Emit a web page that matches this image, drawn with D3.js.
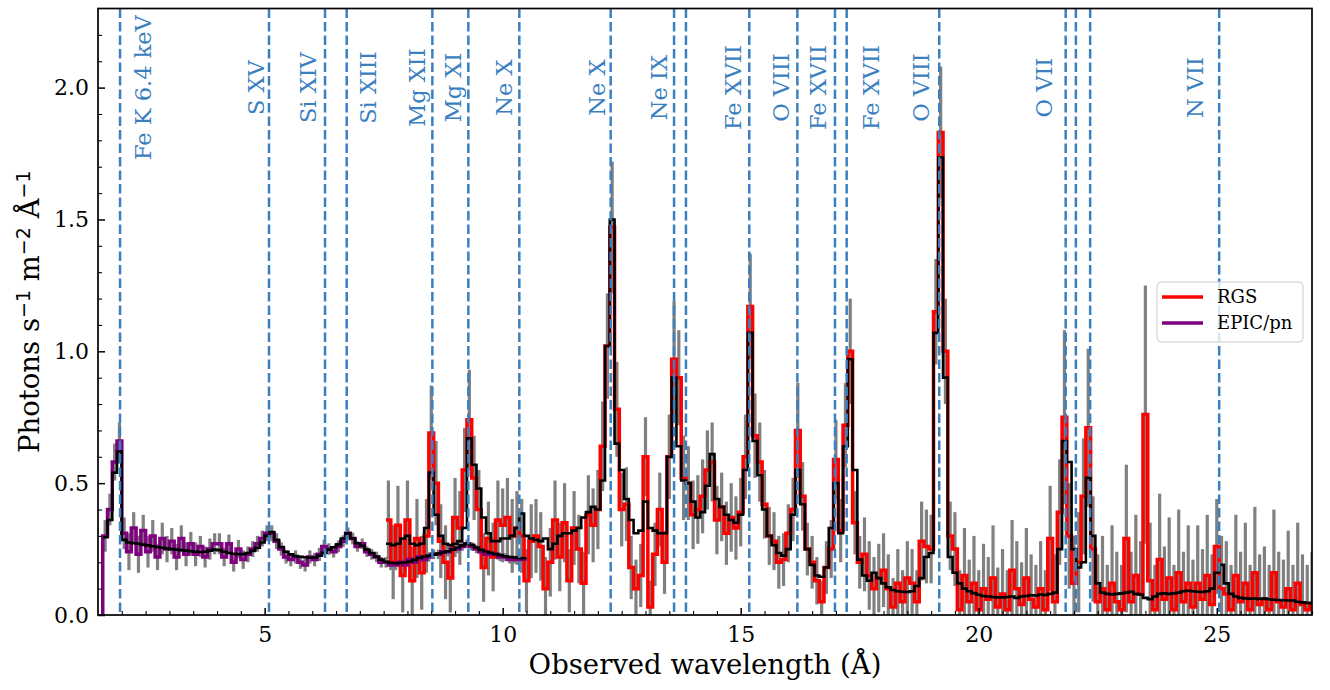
<!DOCTYPE html>
<html>
<head>
<meta charset="utf-8">
<script src="https://cdn.jsdelivr.net/npm/d3@7"></script>
<style>
  body { margin: 0; background: #fff; }
  svg { display: block; font-family: "DejaVu Serif", serif; }
</style>
</head>
<body>
<svg></svg>
<script>
// EPIC/pn spectrum, 0.1 A bins starting at 1.6 A
const epicStart = 1.6
const epicBin = 0.1
const epicFlux = [
  0.30, 0.40, 0.58, 0.66, 0.31, 0.24, 0.33, 0.23, 0.32, 0.24,
  0.30, 0.22, 0.29, 0.25, 0.28, 0.22, 0.29, 0.23, 0.27, 0.23,
  0.26, 0.22, 0.25, 0.27, 0.27, 0.22, 0.27, 0.20, 0.25, 0.21,
  0.23, 0.25, 0.27, 0.29, 0.31, 0.31, 0.28, 0.25, 0.22, 0.21,
  0.22, 0.20, 0.19, 0.22, 0.21, 0.23, 0.26, 0.25, 0.24, 0.26,
  0.28, 0.31, 0.29, 0.26, 0.27, 0.24, 0.23, 0.22, 0.20, 0.20,
  0.19, 0.19, 0.20, 0.19, 0.21, 0.20, 0.22, 0.21, 0.22, 0.23,
  0.23, 0.24, 0.24, 0.25, 0.25, 0.26, 0.27, 0.26, 0.25, 0.24,
  0.23, 0.23, 0.23, 0.22, 0.22, 0.21, 0.21, 0.21, 0.21
]
const epicErr = [
  0.06, 0.06, 0.07, 0.07, 0.06, 0.07, 0.06, 0.07, 0.06, 0.06,
  0.06, 0.05, 0.06, 0.05, 0.05, 0.05, 0.05, 0.045, 0.045, 0.045,
  0.04, 0.04, 0.04, 0.04, 0.04, 0.035, 0.035, 0.035, 0.035, 0.035,
  0.03, 0.03, 0.03, 0.03, 0.03, 0.03, 0.03, 0.025, 0.025, 0.025,
  0.025, 0.025, 0.025, 0.025, 0.025, 0.025, 0.025, 0.022, 0.022, 0.022,
  0.022, 0.022, 0.022, 0.02, 0.02, 0.02, 0.02, 0.02, 0.02, 0.02,
  0.02, 0.02, 0.02, 0.02, 0.018, 0.018, 0.018, 0.018, 0.018, 0.018,
  0.018, 0.018, 0.018, 0.018, 0.016, 0.016, 0.016, 0.016, 0.016, 0.016,
  0.016, 0.016, 0.016, 0.016, 0.015, 0.015, 0.015, 0.015, 0.015
]
const epicModel = [
  0.295, 0.36, 0.54, 0.62, 0.285, 0.275, 0.272, 0.27, 0.267, 0.264,
  0.261, 0.258, 0.255, 0.252, 0.25, 0.248, 0.246, 0.244, 0.242, 0.24,
  0.239, 0.24, 0.244, 0.248, 0.246, 0.24, 0.235, 0.232, 0.231, 0.231,
  0.235, 0.243, 0.255, 0.275, 0.30, 0.315, 0.285, 0.258, 0.24, 0.23,
  0.224, 0.221, 0.219, 0.217, 0.218, 0.225, 0.236, 0.248, 0.257, 0.268,
  0.29, 0.31, 0.29, 0.272, 0.262, 0.248, 0.235, 0.222, 0.21, 0.202,
  0.198, 0.196, 0.197, 0.199, 0.203, 0.209, 0.216, 0.221, 0.225, 0.229,
  0.233, 0.237, 0.242, 0.248, 0.256, 0.264, 0.27, 0.266, 0.256, 0.247,
  0.241, 0.236, 0.231, 0.227, 0.223, 0.22, 0.218, 0.216, 0.215
]

// RGS spectrum, 0.1 A bins starting at 7.55 A
const rgsStart = 7.55
const rgsBin = 0.1
const rgsFlux = [
  0.36, 0.20, 0.34, 0.15, 0.36, 0.13, 0.29, 0.16, 0.30, 0.69,
  0.50, 0.28, 0.20, 0.14, 0.37, 0.33, 0.55, 0.74, 0.52, 0.40,
  0.18, 0.29, 0.22, 0.36, 0.34, 0.37, 0.30, 0.33, 0.30, 0.13,
  0.28, 0.30, 0.26, 0.10, 0.20, 0.36, 0.22, 0.35, 0.13, 0.33,
  0.25, 0.12, 0.38, 0.34, 0.40, 0.64, 1.02, 1.47, 0.78, 0.40,
  0.42, 0.18, 0.10, 0.15, 0.60, 0.03, 0.23, 0.40, 0.20, 0.60,
  0.97, 0.90, 0.52, 0.50, 0.38, 0.40, 0.45, 0.55, 0.58, 0.36,
  0.41, 0.31, 0.37, 0.33, 0.39, 0.60, 1.17, 0.68, 0.58, 0.42,
  0.30, 0.28, 0.20, 0.21, 0.31, 0.40, 0.70, 0.45, 0.25, 0.20,
  0.13, 0.05, 0.18, 0.25, 0.59, 0.32, 0.72, 1.00, 0.35, 0.20,
  0.23, 0.15, 0.10, 0.14, 0.17, 0.10, 0.03, 0.12, 0.05, 0.14,
  0.12, 0.05, 0.28, 0.26, 0.25, 1.15, 1.83, 1.00, 0.30, 0.25,
  0.02, 0.15, 0.05, 0.12, 0.02, 0.10, 0.06, 0.14, 0.03, 0.08,
  0.02, 0.17, 0.10, 0.04, 0.14, 0.06, 0.03, 0.10, 0.02, 0.29,
  0.05, 0.39, 0.75, 0.30, 0.12, 0.20, 0.45, 0.71, 0.25, 0.05,
  0.10, 0.02, 0.12, 0.05, 0.02, 0.29, 0.05, 0.15, 0.08, 0.76,
  0.13, 0.02, 0.21, 0.06, 0.14, 0.02, 0.16, 0.05, 0.12, 0.03,
  0.12, 0.06, 0.15, 0.04, 0.26, 0.10, 0.08, 0.02, 0.15, 0.05,
  0.12, 0.02, 0.16, 0.04, 0.06, 0.02, 0.16, 0.05, 0.03, 0.10,
  0.02, 0.12, 0.04, 0.02, 0.04
]
const rgsErr = [
  0.15, 0.14, 0.15, 0.14, 0.15, 0.13, 0.15, 0.14, 0.14, 0.18,
  0.16, 0.14, 0.14, 0.13, 0.15, 0.14, 0.16, 0.19, 0.16, 0.15,
  0.13, 0.14, 0.13, 0.15, 0.14, 0.15, 0.14, 0.14, 0.14, 0.12,
  0.14, 0.14, 0.13, 0.12, 0.13, 0.15, 0.13, 0.15, 0.12, 0.14,
  0.13, 0.12, 0.15, 0.14, 0.15, 0.17, 0.20, 0.25, 0.18, 0.14,
  0.14, 0.12, 0.11, 0.12, 0.15, 0.10, 0.12, 0.14, 0.12, 0.16,
  0.22, 0.18, 0.16, 0.14, 0.13, 0.13, 0.14, 0.15, 0.15, 0.13,
  0.13, 0.12, 0.13, 0.12, 0.13, 0.16, 0.20, 0.16, 0.15, 0.13,
  0.11, 0.11, 0.10, 0.10, 0.11, 0.12, 0.18, 0.13, 0.10, 0.10,
  0.09, 0.08, 0.10, 0.11, 0.15, 0.12, 0.16, 0.20, 0.12, 0.10,
  0.14, 0.13, 0.12, 0.13, 0.14, 0.13, 0.11, 0.13, 0.12, 0.14,
  0.13, 0.12, 0.15, 0.14, 0.13, 0.20, 0.25, 0.20, 0.13, 0.14,
  0.15, 0.18, 0.16, 0.18, 0.15, 0.17, 0.16, 0.20, 0.15, 0.17,
  0.15, 0.19, 0.18, 0.16, 0.19, 0.17, 0.16, 0.18, 0.15, 0.20,
  0.18, 0.20, 0.33, 0.20, 0.18, 0.19, 0.22, 0.30, 0.20, 0.18,
  0.20, 0.17, 0.22, 0.19, 0.17, 0.28, 0.19, 0.23, 0.20, 0.49,
  0.22, 0.17, 0.25, 0.20, 0.23, 0.17, 0.24, 0.19, 0.22, 0.18,
  0.22, 0.19, 0.23, 0.19, 0.18, 0.20, 0.20, 0.17, 0.23, 0.19,
  0.23, 0.17, 0.25, 0.19, 0.20, 0.17, 0.24, 0.19, 0.18, 0.22,
  0.17, 0.23, 0.19, 0.17, 0.20
]
const rgsModel = [
  0.27, 0.265, 0.27, 0.29, 0.30, 0.27, 0.265, 0.27, 0.33, 0.54,
  0.38, 0.30, 0.27, 0.265, 0.27, 0.28, 0.33, 0.67, 0.57, 0.48,
  0.37, 0.31, 0.28, 0.28, 0.29, 0.29, 0.30, 0.33, 0.385, 0.30,
  0.29, 0.285, 0.28, 0.29, 0.25, 0.27, 0.30, 0.31, 0.31, 0.32,
  0.33, 0.37, 0.39, 0.41, 0.40, 0.51, 1.02, 1.50, 0.65, 0.55,
  0.44, 0.36, 0.31, 0.32, 0.43, 0.33, 0.32, 0.31, 0.31, 0.60,
  0.90, 0.64, 0.51, 0.50, 0.43, 0.37, 0.39, 0.49, 0.61, 0.44,
  0.41, 0.38, 0.36, 0.35, 0.38, 0.55, 1.07, 0.66, 0.53, 0.40,
  0.30, 0.265, 0.235, 0.225, 0.25, 0.38, 0.55, 0.42, 0.25, 0.19,
  0.15, 0.145, 0.18, 0.33, 0.50, 0.31, 0.64, 0.97, 0.55, 0.21,
  0.15, 0.13, 0.16, 0.14, 0.12, 0.105, 0.095, 0.09, 0.088, 0.087,
  0.09, 0.11, 0.14, 0.22, 0.235, 1.07, 1.735, 0.90, 0.22, 0.16,
  0.12, 0.10, 0.09, 0.083, 0.077, 0.072, 0.07, 0.068, 0.067, 0.067,
  0.068, 0.07, 0.065, 0.07, 0.072, 0.075, 0.074, 0.078, 0.076, 0.08,
  0.085, 0.25, 0.66, 0.58, 0.25, 0.18, 0.20, 0.52, 0.30, 0.12,
  0.085, 0.08, 0.078, 0.08, 0.082, 0.085, 0.088, 0.08, 0.078, 0.065,
  0.06, 0.07, 0.08, 0.082, 0.08, 0.082, 0.085, 0.09, 0.092, 0.09,
  0.088, 0.087, 0.09, 0.10, 0.16, 0.19, 0.12, 0.08, 0.07, 0.065,
  0.063, 0.062, 0.062, 0.061, 0.062, 0.060, 0.058, 0.057, 0.056, 0.055,
  0.055, 0.050, 0.048, 0.046, 0.045
]

// identified lines (observed wavelength, A)
const lineWaves = [1.963, 5.092, 6.269, 6.724, 8.523, 9.279, 10.35, 12.269, 13.60, 13.85, 15.18, 16.19, 16.98, 17.226, 19.17, 21.826, 22.04, 22.34, 25.05]
const lineNames = ["Fe K 6.4 keV", "S XV", "Si XIV", "Si XIII", "Mg XII", "Mg XI", "Ne X", "Ne X", "Ne IX", "", "Fe XVII", "O VIII", "Fe XVII", "Fe XVII", "O VIII", "O VII", "", "", "N VII"]

const xTicks = [5, 10, 15, 20, 25]
const yTicks = [0, 0.5, 1.0, 1.5, 2.0]
const legendNames = ["RGS", "EPIC/pn"]

let width = 1330
let height = 690
let plotLeft = 98
let plotRight = 1312
let plotTop = 8.5
let plotBottom = 615

let lineColor = "#3a80c0"

let xScale
let yScale

let svg = d3.select("svg")

const drawCanvas = () => {
    svg.attr("width", width)
    svg.attr("height", height)
    svg.style("background-color", "white")

    svg.append("defs").append("clipPath")
        .attr("id", "plot")
        .append("rect")
        .attr("x", plotLeft)
        .attr("y", plotTop)
        .attr("width", plotRight - plotLeft)
        .attr("height", plotBottom - plotTop)
}

const generateScales = () => {
    xScale = d3.scaleLinear()
        .domain([1.5, 27.0])
        .range([plotLeft, plotRight])

    yScale = d3.scaleLinear()
        .domain([0, 2.3])
        .range([plotBottom, plotTop])
}

const stepPoints = (start, bin, vals) =>
    vals.flatMap((v, i) => [[start + i * bin, v], [start + (i + 1) * bin, v]])

const stepLine = d3.line()
    .x(d => xScale(d[0]))
    .y(d => yScale(d[1]))

const drawErrors = (g, start, bin, vals, errs) => {
    g.selectAll(null)
        .data(vals)
        .enter()
        .append("line")
        .attr("x1", (d, i) => xScale(start + (i + 0.5) * bin))
        .attr("x2", (d, i) => xScale(start + (i + 0.5) * bin))
        .attr("y1", (d, i) => yScale(d + errs[i]))
        .attr("y2", (d, i) => yScale(Math.max(d - errs[i], -0.05)))
        .attr("stroke", "#808080")
        .attr("stroke-width", 3.2)
}

const drawSpectra = () => {
    let g = svg.append("g").attr("clip-path", "url(#plot)")

    drawErrors(g, rgsStart, rgsBin, rgsFlux, rgsErr)
    drawErrors(g, epicStart, epicBin, epicFlux, epicErr)

    g.append("path")
        .attr("d", stepLine(stepPoints(rgsStart, rgsBin, rgsFlux)))
        .attr("fill", "none")
        .attr("stroke", "red")
        .attr("stroke-width", 3.5)

    g.append("path")
        .attr("d", stepLine([[epicStart, 0]].concat(stepPoints(epicStart, epicBin, epicFlux))))
        .attr("fill", "none")
        .attr("stroke", "purple")
        .attr("stroke-width", 3.5)

    g.append("path")
        .attr("d", stepLine(stepPoints(epicStart, epicBin, epicModel)))
        .attr("fill", "none")
        .attr("stroke", "black")
        .attr("stroke-width", 2.6)

    g.append("path")
        .attr("d", stepLine(stepPoints(rgsStart, rgsBin, rgsModel)))
        .attr("fill", "none")
        .attr("stroke", "black")
        .attr("stroke-width", 2.6)

    g.selectAll(".ion")
        .data(lineWaves)
        .enter()
        .append("line")
        .attr("class", "ion")
        .attr("x1", d => xScale(d))
        .attr("x2", d => xScale(d))
        .attr("y1", plotTop)
        .attr("y2", plotBottom)
        .attr("stroke", lineColor)
        .attr("stroke-width", 2.5)
        .attr("stroke-dasharray", "9.5,4")
}

const drawLabels = () => {
    // horizontal shift of each label's centre from its line, px
    let shift = [23, -13, -17, 21, -15, -15, -15, -14, -15, 0, -16, -16, -17, 24, -18, -22, 0, 0, -24]

    let labels = lineWaves
        .map((w, i) => ({ w: w, name: lineNames[i], dx: shift[i] }))
        .filter(d => d.name !== "")

    svg.append("g")
        .selectAll("text")
        .data(labels)
        .enter()
        .append("text")
        .attr("transform", d => "translate(" + (xScale(d.w) + d.dx) + "," + yScale(2.0) + ") rotate(-90)")
        .attr("text-anchor", "middle")
        .attr("dominant-baseline", "central")
        .attr("font-size", "22.5px")
        .attr("fill", lineColor)
        .text(d => d.name)
}

const generateAxes = () => {
    let xAxis = d3.axisBottom(xScale)
        .tickValues(xTicks)
        .tickSizeInner(-7)
        .tickSizeOuter(0)
        .tickPadding(11)
        .tickFormat(d3.format("d"))

    let yAxis = d3.axisLeft(yScale)
        .tickValues(yTicks)
        .tickSizeInner(-7)
        .tickSizeOuter(0)
        .tickPadding(9)
        .tickFormat(d3.format(".1f"))

    let xMinor = d3.axisBottom(xScale)
        .tickValues(d3.range(4, 55).filter(v => v % 10 !== 0).map(v => v / 2))
        .tickSize(-4)
        .tickFormat("")

    let yMinor = d3.axisLeft(yScale)
        .tickValues(d3.range(1, 23).filter(v => v % 5 !== 0).map(v => v / 10))
        .tickSize(-4)
        .tickFormat("")

    let gx = svg.append("g")
        .call(xAxis)
        .attr("transform", "translate(0, " + plotBottom + ")")

    let gy = svg.append("g")
        .call(yAxis)
        .attr("transform", "translate(" + plotLeft + ", 0)")

    let gxm = svg.append("g")
        .call(xMinor)
        .attr("transform", "translate(0, " + plotBottom + ")")

    let gym = svg.append("g")
        .call(yMinor)
        .attr("transform", "translate(" + plotLeft + ", 0)")

    ;[gx, gy, gxm, gym].forEach(g => {
        g.select(".domain").remove()
        g.selectAll("line").attr("stroke", "black").attr("stroke-width", 1.5)
        g.selectAll("text")
            .attr("font-family", "DejaVu Serif")
            .attr("font-size", "22px")
            .attr("fill", "black")
    })
    gxm.selectAll("line").attr("stroke-width", 1.1)
    gym.selectAll("line").attr("stroke-width", 1.1)

    svg.append("rect")
        .attr("x", plotLeft)
        .attr("y", plotTop)
        .attr("width", plotRight - plotLeft)
        .attr("height", plotBottom - plotTop)
        .attr("fill", "none")
        .attr("stroke", "black")
        .attr("stroke-width", 1.7)

    svg.append("text")
        .attr("x", (plotLeft + plotRight) / 2)
        .attr("y", 674)
        .attr("text-anchor", "middle")
        .attr("font-size", "27.5px")
        .text("Observed wavelength (Å)")

    let ylab = svg.append("text")
        .attr("transform", "translate(39," + (plotTop + plotBottom) / 2 + ") rotate(-90)")
        .attr("text-anchor", "middle")
        .attr("font-size", "27.5px")

    let parts = [["Photons s", false], ["−1", true], [" m", false], ["−2", true], [" Å", false], ["−1", true]]
    parts.forEach(p => {
        let t = ylab.append("tspan").text(p[0])
        if (p[1]) {
            t.attr("font-size", "19px")
                .attr("font-family", "DejaVu Sans")
                .attr("baseline-shift", "45%")
        }
    })
}

const legend = () => {
    let g = svg.append("g")
        .attr("transform", "translate(1157, 282)")

    g.append("rect")
        .attr("width", 146)
        .attr("height", 60)
        .attr("rx", 4)
        .attr("fill", "white")
        .attr("fill-opacity", 0.8)
        .attr("stroke", "#cccccc")
        .attr("stroke-width", 1)

    let colors = ["red", "purple"]
    legendNames.forEach((name, i) => {
        g.append("line")
            .attr("x1", 5)
            .attr("x2", 46)
            .attr("y1", 15 + i * 26)
            .attr("y2", 15 + i * 26)
            .attr("stroke", colors[i])
            .attr("stroke-width", 3.5)
        g.append("text")
            .attr("x", 60)
            .attr("y", 15 + i * 26)
            .attr("dy", "0.35em")
            .attr("font-size", "18px")
            .text(name)
    })
}

drawCanvas()
generateScales()
drawSpectra()
drawLabels()
generateAxes()
legend()
</script>
</body>
</html>
